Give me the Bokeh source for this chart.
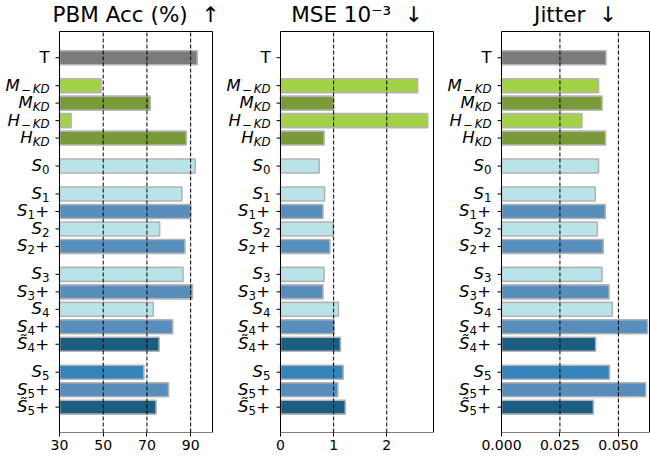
from bokeh.plotting import figure
from bokeh.models import Range1d, FixedTicker, PrintfTickFormatter, ColumnDataSource, BoxAnnotation
from bokeh.core.properties import value
from bokeh.layouts import row
from bokeh.embed import file_html
from bokeh.resources import INLINE

# ---------------- data ----------------
labels = ["T", "M_{-KD}", "M_{KD}", "H_{-KD}", "H_{KD}", "S_0",
          "S_1", "S_1+", "S_2", "S_2+",
          "S_3", "S_3+", "S_4", "S_4+", "~S_4+",
          "S_5", "S_5+", "~S_5+"]
group_sizes = [1, 4, 1, 4, 5, 3]

pbm_acc = [93.0, 49.0, 71.5, 35.3, 88.0, 92.1,
           86.0, 90.0, 75.8, 87.4,
           86.5, 90.8, 72.9, 81.8, 75.6,
           68.6, 79.9, 74.2]
mse = [float("nan"), 2.58, 1.00, 2.77, 0.82, 0.73,
       0.83, 0.80, 0.99, 0.93,
       0.82, 0.80, 1.09, 1.01, 1.13,
       1.18, 1.08, 1.22]
jitter = [0.0447, 0.0415, 0.0430, 0.0344, 0.0445, 0.0415,
          0.0401, 0.0444, 0.0410, 0.0435,
          0.0430, 0.0460, 0.0474, 0.0625, 0.0403,
          0.0462, 0.0617, 0.0393]

titles = ["PBM Acc (%)\u00a0\u00a0\u2191", "MSE 10\u207b\u00b3\u00a0\u00a0\u2193", "Jitter\u00a0\u00a0\u2193"]
ticks_1 = [30, 50, 70, 90]
ticks_2 = [0, 1, 2]
ticks_3 = [0.0, 0.025, 0.05]

# ---------------- styles ----------------
color_of = {
    "T": "#7b7b7b",
    "M_{-KD}": "#a4d246", "H_{-KD}": "#a4d246",
    "M_{KD}": "#7a9939", "H_{KD}": "#7a9939",
    "S_0": "#b8e3e8", "S_1": "#b8e3e8", "S_2": "#b8e3e8", "S_3": "#b8e3e8", "S_4": "#b8e3e8",
    "S_1+": "#588ebb", "S_2+": "#588ebb", "S_3+": "#588ebb", "S_4+": "#588ebb", "S_5+": "#588ebb",
    "~S_4+": "#1b5e82", "~S_5+": "#1b5e82",
    "S_5": "#3585bb",
}
FONT = "DejaVu Sans"
BASE = 16.5
SUB = 11.8
SUBDROP = 4.0
BASELINE_PX = -0.5   # baseline offset from tick (px, down positive)
ADV = {'S': 0.635, 'M': 0.863, 'H': 0.752, 'T': 0.611, 'K': 0.656, 'D': 0.770,
       '\u2212': 0.838, '+': 0.838}
for d in "0123456789":
    ADV[d] = 0.636

# y positions from group structure
ypos = []
pos = 0.0
for gi, n in enumerate(group_sizes):
    if gi > 0:
        pos += 0.6
    for _ in range(n):
        ypos.append(pos)
        pos += 1.0

Y_BOTTOM, Y_TOP = 21.45, -1.5
TOP_PX = 31          # visual frame top (px from canvas top)
VIS_H = 401          # visual frame height
BOT_B = 27
PPU = VIS_H / (Y_BOTTOM - Y_TOP)
Y_CANVAS_TOP = Y_TOP - TOP_PX / PPU


def parse(lbl):
    tilde = lbl.startswith("~")
    if tilde:
        lbl = lbl[1:]
    suffix = "+" if lbl.endswith("+") else ""
    if suffix:
        lbl = lbl[:-1]
    if "_" in lbl:
        base, sub = lbl.split("_", 1)
        sub = sub.strip("{}").replace("-", "\u2212")
    else:
        base, sub = lbl, ""
    return base, sub, suffix, tilde


def pieces_for(lbl):
    """(text, size, italic, drop_px, width_px, pad_px) from left to right."""
    base, sub, suffix, tilde = parse(lbl)
    pcs = [(base + ("\u0303" if tilde else ""), BASE, base != "T", 0.0,
            ADV[base] * BASE, 0.0)]
    for c in sub:
        pad = 1.5 if c == "\u2212" else 0.0
        pcs.append((c, SUB, c.isalpha(), SUBDROP, ADV[c] * SUB, pad))
    if suffix:
        pcs.append(("+", BASE, False, 0.0, ADV["+"] * BASE, 0.3))
    return pcs


def make_panel(title, values, x_start, x_end, ticks, fmt, fig_w, left_px, vis_w):
    ppx = vis_w / (x_end - x_start)
    x_lo = x_start - left_px / ppx
    x_hi = x_end + (fig_w - left_px - vis_w) / ppx

    p = figure(frame_width=fig_w, frame_height=TOP_PX + VIS_H, output_backend="svg",
               toolbar_location=None,
               x_range=Range1d(x_lo, x_hi), y_range=Range1d(Y_BOTTOM, Y_CANVAS_TOP),
               y_axis_type=None,
               min_border_left=0, min_border_right=0,
               min_border_top=0, min_border_bottom=BOT_B)
    p.outline_line_color = None
    p.grid.visible = False

    # bars
    src = ColumnDataSource(dict(y=ypos, v=values, c=[color_of[l] for l in labels]))
    p.hbar(y="y", left=max(0.0, x_start), right="v", height=0.8, source=src,
           fill_color="c", line_color="#b4b4b4", line_width=1.6)

    # dashed vertical grid lines (over the bars)
    p.segment(x0=ticks, x1=ticks, y0=[Y_BOTTOM] * len(ticks), y1=[Y_TOP] * len(ticks),
              line_color="black", line_dash="4 2", line_width=1)

    # y tick marks
    p.segment(x0=[x_start] * len(ypos), x1=[x_start - 4.0 / ppx] * len(ypos),
              y0=ypos, y1=ypos, line_color="black", line_width=1)

    # frame
    p.add_layout(BoxAnnotation(left=x_start, right=x_end, top=Y_TOP, bottom=Y_BOTTOM,
                               fill_alpha=0, line_color="black", line_width=1,
                               line_alpha=1))

    # title
    p.text(x=[(x_start + x_end) / 2], y=[Y_TOP - 17.5 / PPU], text=[title],
           text_font=value(FONT), text_font_size="21.5px", text_align="center",
           text_baseline="middle", text_color="black")

    # y tick labels (math-like pieces)
    xs, ys, ts, fs, st = [], [], [], [], []
    for lbl, yv in zip(labels, ypos):
        cursor = -10.0
        for text, size, ital, dy, w, pad in reversed(pieces_for(lbl)):
            cursor -= pad
            xs.append(x_start + cursor / ppx)
            ys.append(yv + (BASELINE_PX + dy) / PPU)
            ts.append(text)
            fs.append(f"{size:g}px")
            st.append("italic" if ital else "normal")
            cursor -= w + pad
    lsrc = ColumnDataSource(dict(x=xs, y=ys, t=ts, fs=fs, st=st))
    p.text(x="x", y="y", text="t", source=lsrc, text_font=value(FONT),
           text_font_size="fs", text_font_style="st", text_align="right",
           text_baseline="alphabetic", text_color="black")

    # x axis
    xa = p.xaxis[0]
    xa.ticker = FixedTicker(ticks=ticks)
    if fmt:
        xa.formatter = PrintfTickFormatter(format=fmt)
    xa.major_label_text_font = FONT
    xa.major_label_text_font_size = "14px"
    xa.major_label_text_color = "black"
    xa.major_label_standoff = 3
    xa.major_tick_in = 0
    xa.major_tick_out = 4
    xa.minor_tick_out = 0
    xa.minor_tick_in = 0
    xa.axis_line_color = None
    xa.major_tick_line_color = "black"
    return p


p1 = make_panel(titles[0], pbm_acc, 30, 100, ticks_1, None, 226, 59, 153)
p2 = make_panel(titles[1], mse, 0, 2.88, ticks_2, None, 221, 54, 153)
p3 = make_panel(titles[2], jitter, 0, 0.0633, ticks_3, "%.3f", 203, 54, 148)

layout = row(p1, p2, p3)
open("out.html", "w").write(file_html(layout, INLINE))
